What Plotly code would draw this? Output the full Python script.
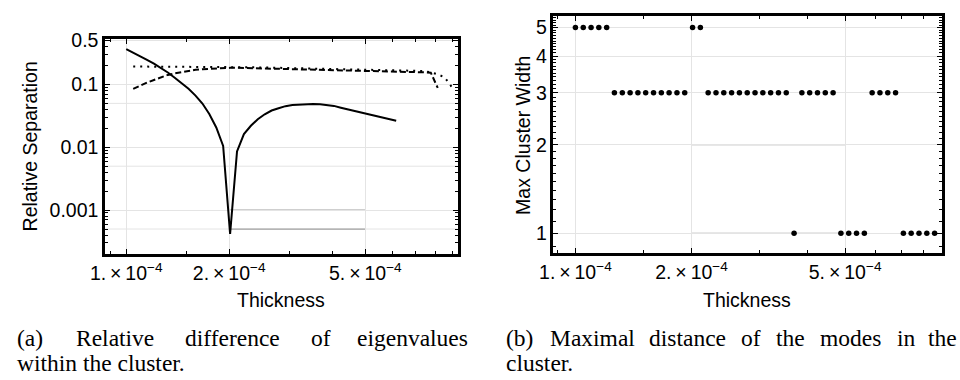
import plotly.graph_objects as go

W, H = 960, 380

# ---------------- data ----------------
thickness = [1.000e-4, 1.048e-4, 1.098e-4, 1.150e-4, 1.205e-4, 1.262e-4, 1.323e-4, 1.386e-4,
             1.452e-4, 1.521e-4, 1.594e-4, 1.670e-4, 1.749e-4, 1.833e-4, 1.920e-4, 2.012e-4,
             2.108e-4, 2.208e-4, 2.314e-4, 2.424e-4, 2.540e-4, 2.661e-4, 2.788e-4, 2.921e-4,
             3.060e-4, 3.206e-4, 3.359e-4, 3.519e-4, 3.687e-4, 3.863e-4, 4.047e-4, 4.240e-4,
             4.442e-4, 4.654e-4, 4.876e-4, 5.109e-4, 5.352e-4, 5.608e-4, 5.875e-4, 6.155e-4,
             6.449e-4, 6.756e-4, 7.079e-4, 7.416e-4, 7.770e-4, 8.141e-4, 8.529e-4, 8.936e-4]

# solid curve: thickness[0:40]
sep_solid = [0.365, 0.322, 0.284, 0.247, 0.214, 0.183, 0.155, 0.128, 0.105, 0.0854,
             0.0664, 0.0497, 0.0338, 0.0207, 0.0105, 0.00042, 0.0086, 0.0162, 0.0220, 0.0279,
             0.0335, 0.0385, 0.0419, 0.0452, 0.0470, 0.0481, 0.0489, 0.0491, 0.0485, 0.0474,
             0.0456, 0.0427, 0.0401, 0.0377, 0.0353, 0.0331, 0.0311, 0.0294, 0.0279, 0.0264]

# dashed curve: thickness[1:46]
sep_dashed = [0.085, 0.096, 0.107, 0.118, 0.131, 0.142, 0.150, 0.158, 0.165, 0.171,
              0.175, 0.178, 0.181, 0.183, 0.184, 0.184, 0.183, 0.182, 0.181, 0.180,
              0.178, 0.177, 0.176, 0.175, 0.175, 0.174, 0.173, 0.172, 0.171, 0.170,
              0.169, 0.168, 0.167, 0.166, 0.165, 0.164, 0.163, 0.162, 0.161, 0.160,
              0.159, 0.158, 0.156, 0.154, 0.088]

# dotted curve: thickness[1:48]
sep_dotted = [0.193, 0.193, 0.193, 0.193, 0.192, 0.192, 0.192, 0.192, 0.191, 0.191,
              0.190, 0.190, 0.190, 0.190, 0.190, 0.190, 0.189, 0.188, 0.187, 0.186,
              0.185, 0.184, 0.183, 0.182, 0.182, 0.181, 0.180, 0.179, 0.178, 0.177,
              0.176, 0.175, 0.174, 0.173, 0.172, 0.171, 0.170, 0.169, 0.168, 0.167,
              0.166, 0.165, 0.164, 0.156, 0.145, 0.130, 0.092]

# max cluster width: thickness[0:47]
cluster_width = [5, 5, 5, 5, 5,
                 3, 3, 3, 3, 3, 3, 3, 3, 3, 3,
                 5, 5,
                 3, 3, 3, 3, 3, 3, 3, 3, 3, 3, 3,
                 1,
                 3, 3, 3, 3, 3,
                 1, 1, 1, 1,
                 3, 3, 3, 3,
                 1, 1, 1, 1, 1]

x_tickvals = [1e-4, 2e-4, 5e-4]
x_ticktext = ["1.\u2009\u00d7\u200910<sup>\u22124</sup>",
              "2.\u2009\u00d7\u200910<sup>\u22124</sup>",
              "5.\u2009\u00d7\u200910<sup>\u22124</sup>"]
x_minor = [9e-5, 1.5e-4, 3e-4, 4e-4, 6e-4, 7e-4, 8e-4, 9e-4]

ly_tickvals = [0.001, 0.01, 0.1, 0.5]
ly_ticktext = ["0.001", "0.01", "0.1", "0.5"]
ly_minor = [0.0003, 0.0004, 0.0005, 0.0006, 0.0007, 0.0008, 0.0009,
            0.002, 0.003, 0.004, 0.005, 0.006, 0.007, 0.008, 0.009,
            0.02, 0.03, 0.04, 0.05, 0.06, 0.07, 0.08, 0.09,
            0.2, 0.3, 0.4]
ly_extragrid = [0.0005, 0.005, 0.05]

ry_tickvals = [1, 2, 3, 4, 5]
ry_ticktext = ["1", "2", "3", "4", "5"]
ry_minor = [0.9, 1.1, 1.2, 1.3, 1.4, 1.5, 1.6, 1.7, 1.8, 1.9,
            2.1, 2.2, 2.3, 2.4, 2.5, 2.6, 2.7, 2.8, 2.9,
            3.1, 3.2, 3.3, 3.4, 3.5, 3.6, 3.7, 3.8, 3.9,
            4.1, 4.2, 4.3, 4.4, 4.5, 4.6, 4.7, 4.8, 4.9, 5.1, 5.2, 5.3, 5.4, 5.5]

caption_a1 = ["(a)", "Relative", "difference", "of", "eigenvalues"]
caption_a2 = "within the cluster."
caption_b1 = ["(b)", "Maximal", "distance", "of", "the", "modes", "in", "the"]
caption_b2 = "cluster."

# ---------------- figure ----------------
fig = go.Figure()

BLACK = "black"
fig.add_trace(go.Scatter(x=thickness[1:48], y=sep_dotted, mode="lines",
                         line=dict(color=BLACK, width=2, dash="2px,5px"),
                         xaxis="x", yaxis="y", showlegend=False, hoverinfo="skip"))
fig.add_trace(go.Scatter(x=thickness[1:46], y=sep_dashed, mode="lines",
                         line=dict(color=BLACK, width=2, dash="6px,3px"),
                         xaxis="x", yaxis="y", showlegend=False, hoverinfo="skip"))
fig.add_trace(go.Scatter(x=thickness[0:40], y=sep_solid, mode="lines",
                         line=dict(color=BLACK, width=2),
                         xaxis="x", yaxis="y", showlegend=False, hoverinfo="skip"))
fig.add_trace(go.Scatter(x=thickness[0:47], y=cluster_width, mode="markers",
                         marker=dict(color=BLACK, size=5.5),
                         xaxis="x2", yaxis="y2", showlegend=False, hoverinfo="skip"))


def px2paperx(px):
    return px / W


def py2papery(py):
    return 1 - py / H


tickfont = dict(family="Liberation Sans, Arial, sans-serif", size=19.5, color="black")
common = dict(type="log", showline=True, linewidth=2.5, linecolor="black", mirror="allticks",
              ticks="inside", ticklen=5, tickwidth=1.3, tickcolor="black",
              showgrid=True, gridcolor="#e4e4e4", gridwidth=1, zeroline=False,
              tickfont=tickfont, tickmode="array")


def minor(vals):
    return dict(tickmode="array", tickvals=vals, ticks="inside", ticklen=3,
                tickwidth=1, tickcolor="black", showgrid=False)


fig.update_layout(
    xaxis=dict(domain=[px2paperx(91.5), px2paperx(450)], range=[-4.0619, -3.0302],
               tickvals=x_tickvals, ticktext=x_ticktext, minor=minor(x_minor),
               anchor="y", **common),
    yaxis=dict(domain=[py2papery(250.5), py2papery(30.5)], range=[-3.6915, -0.2727],
               tickvals=ly_tickvals, ticktext=ly_ticktext, minor=minor(ly_minor),
               anchor="x", **common),
    xaxis2=dict(domain=[px2paperx(547), px2paperx(941.5)], range=[-4.0569, -3.0505],
                tickvals=x_tickvals, ticktext=x_ticktext, minor=minor(x_minor),
                anchor="y2", **common),
    yaxis2=dict(domain=[py2papery(249.5), py2papery(7)], range=[-0.0657, 0.7389],
                tickvals=ry_tickvals, ticktext=ry_ticktext, minor=minor(ry_minor),
                anchor="x2", **common),
)

shapes = []
for g in ly_extragrid:
    shapes.append(dict(type="line", xref="x domain", yref="y", x0=0, x1=1, y0=g, y1=g,
                       line=dict(color="#e4e4e4", width=1), layer="below"))
# darker grid segments as in the original rendering
for g in (0.001, 0.0005):
    shapes.append(dict(type="line", xref="x", yref="y", x0=2e-4, x1=5e-4, y0=g, y1=g,
                       line=dict(color="#a0a0a0", width=1.2), layer="below"))
for g in (1, 2):
    shapes.append(dict(type="line", xref="x2", yref="y2", x0=2e-4, x1=5e-4, y0=g, y1=g,
                       line=dict(color="#a0a0a0", width=1.2), layer="below"))
fig.update_layout(shapes=shapes)

titlefont = dict(family="Liberation Sans, Arial, sans-serif", size=19.5, color="black")
capfont = dict(family="Liberation Serif, Times New Roman, serif", size=23.5, color="black")
ann = []
ann.append(dict(text="Thickness", x=px2paperx(270.5), y=py2papery(298), xref="paper", yref="paper",
                xanchor="center", yanchor="middle", showarrow=False, font=titlefont))
ann.append(dict(text="Thickness", x=px2paperx(744), y=py2papery(298), xref="paper", yref="paper",
                xanchor="center", yanchor="middle", showarrow=False, font=titlefont))
ann.append(dict(text="Relative Separation", x=px2paperx(15), y=py2papery(141), xref="paper", yref="paper",
                xanchor="center", yanchor="middle", showarrow=False, textangle=-90, font=titlefont))
ann.append(dict(text="Max Cluster Width", x=px2paperx(516), y=py2papery(129), xref="paper", yref="paper",
                xanchor="center", yanchor="middle", showarrow=False, textangle=-90, font=titlefont))

# captions: justified first lines
a_pos = [(0, "left"), (60, "left"), (171, "left"), (299, "left"), (462, "right")]
for word, (px, anc) in zip(caption_a1, a_pos):
    ann.append(dict(text=word, x=px2paperx(px), y=py2papery(337), xref="paper", yref="paper",
                    xanchor=anc, yanchor="middle", showarrow=False, font=capfont))
ann.append(dict(text=caption_a2, x=0, y=py2papery(363), xref="paper", yref="paper",
                xanchor="left", yanchor="middle", showarrow=False, font=capfont))
b_pos = [(497, "left"), (541, "left"), (642, "left"), (735, "left"), (771, "left"),
         (816, "left"), (894, "left"), (959, "right")]
for word, (px, anc) in zip(caption_b1, b_pos):
    ann.append(dict(text=word, x=px2paperx(px), y=py2papery(337), xref="paper", yref="paper",
                    xanchor=anc, yanchor="middle", showarrow=False, font=capfont))
ann.append(dict(text=caption_b2, x=px2paperx(497), y=py2papery(363), xref="paper", yref="paper",
                xanchor="left", yanchor="middle", showarrow=False, font=capfont))

fig.update_layout(annotations=ann, width=W, height=H, margin=dict(l=0, r=0, t=0, b=0),
                  paper_bgcolor="white", plot_bgcolor="white", showlegend=False)

fig.write_html("out.html", post_script="document.body.style.margin='0';")
